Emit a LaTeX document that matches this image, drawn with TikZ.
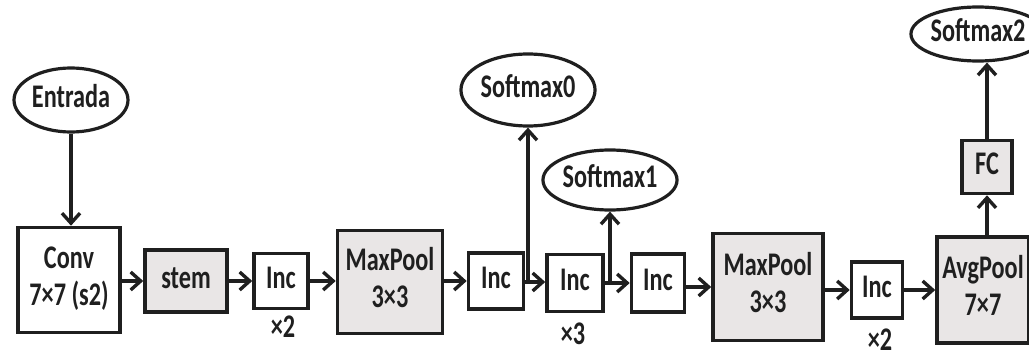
\documentclass[tikz,border=0pt]{standalone}
\usepackage{fontspec}
\setmainfont{Carlito}
\usetikzlibrary{arrows.meta,shapes.geometric}

\definecolor{ink}{HTML}{1F1F1F}
\definecolor{boxgray}{HTML}{E9E6E6}

% stretched text block used inside every node
\newcommand{\tx}[1]{\scalebox{0.97}[1.32]{\begin{tabular}{@{}c@{}}#1\end{tabular}}}

\tikzset{
  base/.style={draw=ink, line width=3.6pt, inner sep=0pt, text=ink,
    font=\fontsize{25}{28}\bfseries\selectfont},
  plainbox/.style={base, rectangle, fill=white},
  graybox/.style={base, rectangle, fill=boxgray},
  outnode/.style={base, ellipse, fill=white, line width=3.2pt},
  repeatlbl/.style={text=ink, inner sep=0pt, font=\fontsize{25}{28}\bfseries\selectfont},
  flow/.style={draw=ink, line width=3.4pt,
    -{Straight Barb[length=10pt, width=18pt, line width=3.4pt]}}
}

\begin{document}
\begin{tikzpicture}[x=1pt, y=-1pt]
\useasboundingbox (0,0) rectangle (1029,361);

% input and stem
\node[outnode, minimum width=114pt, minimum height=64pt] (entrada) at (71,100) {\tx{Entrada}};
\node[plainbox, minimum width=102pt, minimum height=105pt] (conv) at (69,280) {\tx{Conv\\7×7 (s2)}};
\node[graybox, minimum width=82pt, minimum height=62pt] (stem) at (186,281) {\tx{stem}};
\node[plainbox, minimum width=54pt, minimum height=55pt] (inc1) at (281,281) {\tx{Inc}};
\node[repeatlbl] (rep1) at (283,330) {\tx{×2}};
\node[graybox, minimum width=105pt, minimum height=103pt] (mp1) at (390,282) {\tx{MaxPool\\3×3}};

% middle inception stage with two auxiliary outputs
\node[plainbox, minimum width=55pt, minimum height=56pt] (inc2) at (496,281) {\tx{Inc}};
\node[plainbox, minimum width=56pt, minimum height=57pt] (inc3) at (575,283) {\tx{Inc}};
\node[plainbox, minimum width=53pt, minimum height=58pt] (inc4) at (658,283) {\tx{Inc}};
\node[repeatlbl] (rep2) at (573,337) {\tx{×3}};
\node[outnode, minimum width=118pt, minimum height=72pt] (sm0) at (528,90) {\tx{Softmax0}};
\node[outnode, minimum width=115pt, minimum height=60pt] (sm1) at (610,180) {\tx{Softmax1}};

% last stage and classifier
\node[graybox, minimum width=110pt, minimum height=107pt] (mp2) at (768,287) {\tx{MaxPool\\3×3}};
\node[plainbox, minimum width=51pt, minimum height=56pt] (inc5) at (877,290) {\tx{Inc}};
\node[repeatlbl] (rep3) at (880,343) {\tx{×2}};
\node[graybox, minimum width=92pt, minimum height=106pt] (avg) at (983,290) {\tx{AvgPool\\7×7}};
\node[graybox, minimum width=50pt, minimum height=53pt] (fc) at (987,167) {\tx{FC}};
\node[outnode, minimum width=99pt, minimum height=54pt] (sm2) at (978,34) {\tx{Softmax2}};

% branch points on the main path
\coordinate (j0) at (528,282);
\coordinate (j1) at (610,283);

% connectors
\draw[flow] (entrada.south) -- (entrada.south |- conv.north);
\draw[flow] (conv.east |- stem.west) -- (stem.west);
\draw[flow] (stem.east) -- (stem.east -| inc1.west);
\draw[flow] (inc1.east) -- (inc1.east -| mp1.west);
\draw[flow] (mp1.east |- inc2.west) -- (inc2.west);
\draw[flow] (inc2.east |- j0) -- (j0 -| inc3.west);
\draw[flow] (j0) -- (sm0.south);
\draw[flow] (inc3.east) -- (inc3.east -| inc4.west);
\draw[flow] (j1) -- (sm1.south);
\draw[flow] (inc4.east |- mp2.west) -- (mp2.west);
\draw[flow] (mp2.east |- inc5.west) -- (inc5.west);
\draw[flow] (inc5.east) -- (inc5.east -| avg.west);
\draw[flow] (avg.north -| fc.south) -- (fc.south);
\draw[flow] (fc.north) -- (fc.north |- sm2.south);
\end{tikzpicture}
\end{document}
